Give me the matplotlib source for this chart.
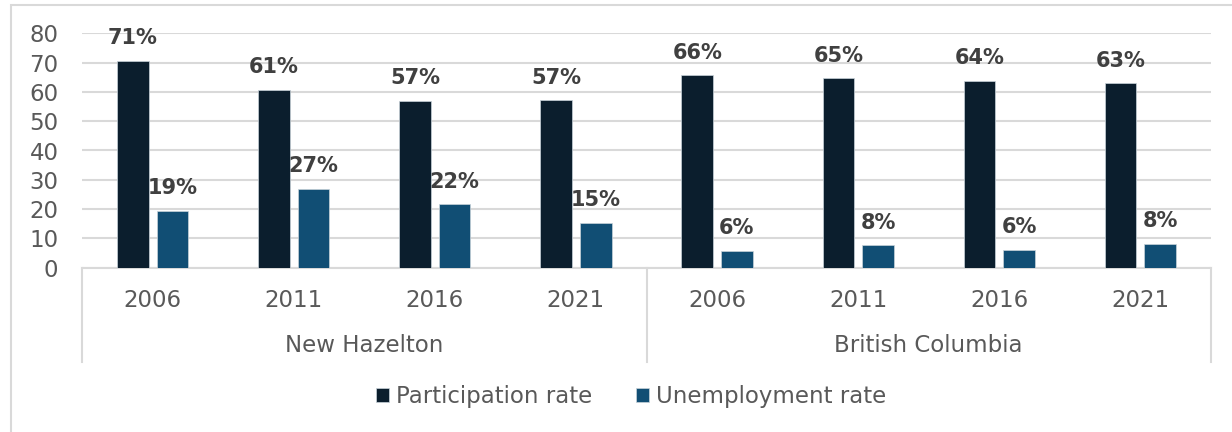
import matplotlib
matplotlib.use("Agg")
import matplotlib.pyplot as plt
from matplotlib.patches import Rectangle
import numpy as np

years = ["2006", "2011", "2016", "2021", "2006", "2011", "2016", "2021"]
regions = ["New Hazelton", "British Columbia"]
participation = [70.6, 60.8, 57.0, 57.1, 65.6, 64.6, 63.8, 62.9]
unemployment = [19.3, 27.0, 21.6, 15.2, 5.8, 7.6, 6.1, 8.2]

dark = "#0B1E2D"
blue = "#114E74"
grid_col = "#D9D9D9"
tick_col = "#595959"
label_col = "#404040"
fs = 16.5

plt.rcParams["font.family"] = "DejaVu Sans"

fig = plt.figure(figsize=(12.32, 4.32), dpi=100)
ax = fig.add_axes([82 / 1232, 1 - 267.7 / 432, (1211 - 82) / 1232, 234.4 / 432])

x = np.arange(len(years))
w = 0.224
off = 0.14
b1 = ax.bar(x - off, participation, w, color=dark, edgecolor="#C9D3DA", linewidth=0.5,
            label="Participation rate", zorder=3)
b2 = ax.bar(x + off, unemployment, w, color=blue, edgecolor="#C9D3DA", linewidth=0.5,
            label="Unemployment rate", zorder=3)

# value labels above each bar
for bars, vals in ((b1, participation), (b2, unemployment)):
    for rect, v in zip(bars, vals):
        ax.annotate(f"{v:.0f}%", (rect.get_x() + rect.get_width() / 2, v),
                    xytext=(0, 12), textcoords="offset points",
                    ha="center", va="baseline", fontsize=15, fontweight="bold",
                    color=label_col, zorder=4)

ax.set_xlim(-0.5, len(years) - 0.5)
ax.set_ylim(0, 80)
ax.set_yticks(range(0, 81, 10))
ax.yaxis.grid(True, color=grid_col, linewidth=1.5, zorder=0)
ax.set_axisbelow(True)
ax.tick_params(axis="y", length=0, pad=17, labelsize=fs, labelcolor=tick_col)
ax.set_xticks([])
for s in ("top", "right", "left"):
    ax.spines[s].set_visible(False)
ax.spines["bottom"].set_color(grid_col)
ax.spines["bottom"].set_linewidth(1.5)

# two-level category axis
trans = ax.get_xaxis_transform()
for xi, yr in zip(x, years):
    ax.text(xi, -0.138, yr, transform=trans, ha="center", va="center",
            fontsize=fs, color=tick_col)
n = len(years) // len(regions)
for i, reg in enumerate(regions):
    ax.text(i * n + (n - 1) / 2, -0.334, reg, transform=trans, ha="center",
            va="center", fontsize=fs, color=tick_col)
for xb in np.arange(-0.5, len(years), n):
    ax.plot([xb, xb], [0, -0.402], transform=trans, color=grid_col,
            linewidth=1.5, clip_on=False)

ax.legend(loc="center", bbox_to_anchor=(631 / 1232, 1 - 397 / 432),
          bbox_transform=fig.transFigure, ncol=2, frameon=False, fontsize=fs,
          handlelength=0.57, handleheight=0.57, handletextpad=0.3,
          columnspacing=1.9, labelcolor=tick_col)

# chart border
fig.patches.append(Rectangle((11 / 1232, -0.1), 1.2, 1.1 - 5 / 432,
                             transform=fig.transFigure, fill=False,
                             edgecolor=grid_col, linewidth=1.5))

fig.savefig("out.png", dpi=100, facecolor="white")
